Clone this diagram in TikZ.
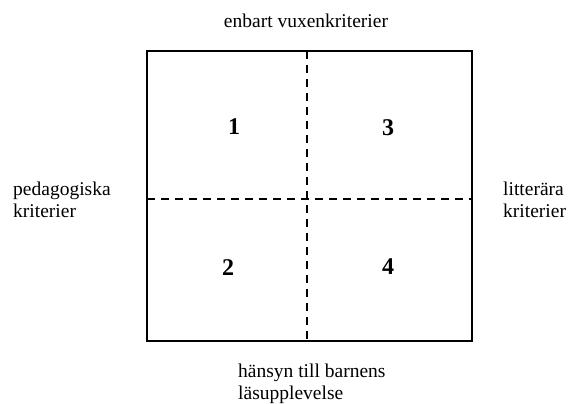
\documentclass[tikz,border=0pt]{standalone}
\usepackage{fontspec}
\setmainfont{Liberation Serif}
\begin{document}
\begin{tikzpicture}[x=1pt,y=-1pt,
  lbl/.style={font=\fontsize{19.5}{22.5}\selectfont, inner sep=0pt},
  num/.style={font=\fontsize{24}{26}\selectfont\bfseries, inner sep=0pt},
  dsh/.style={line width=1.3pt, dash pattern=on 8pt off 6pt}]
\useasboundingbox (0,0) rectangle (568,404);
\coordinate (tl) at (147,51);
\coordinate (br) at (472,341);
\coordinate (vt) at (307,51);
\coordinate (vb) at (307,341);
\coordinate (hl) at (147,199);
\coordinate (hr) at (472,199);
\draw[dsh] (vt) -- (vb);
\draw[dsh] (hl) -- (hr);
\draw[line width=2pt] (tl) rectangle (br);
\node[num] (n1) at (234,127) {1};
\node[num] (n3) at (388,128) {3};
\node[num] (n2) at (228,268) {2};
\node[num] (n4) at (388,267) {4};
\node[lbl, anchor=base] (top) at (306,28) {enbart vuxenkriterier};
\node[lbl, anchor=west, align=left] (left) at (13,200) {pedagogiska\\kriterier};
\node[lbl, anchor=west, align=left] (right) at (503,200) {litterära\\kriterier};
\node[lbl, anchor=west, align=left] (bot) at (238,384) {hänsyn till barnens\\läsupplevelse};
\end{tikzpicture}
\end{document}
